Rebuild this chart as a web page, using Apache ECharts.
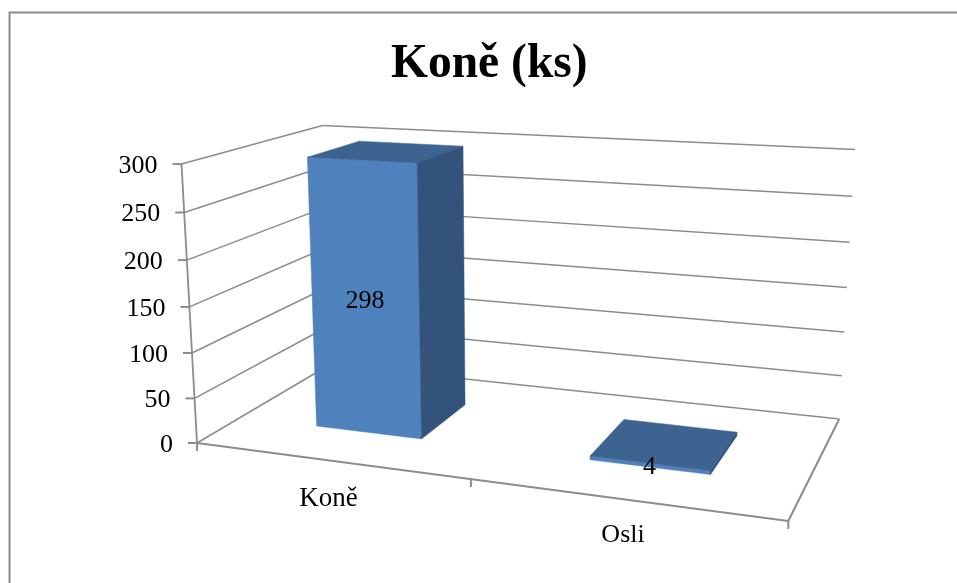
<!DOCTYPE html>
<html>
<head>
<meta charset="utf-8">
<style>html,body{margin:0;padding:0;background:#fff}#chart{width:957px;height:583px}</style>
<script src="https://cdn.jsdelivr.net/npm/echarts@6/dist/echarts.min.js"></script>
</head>
<body>
<div id="chart"></div>
<script>
// Chart content
const chartTitle = 'Koně (ks)';
const categories = ['Koně', 'Osli'];
const values = [298, 4];
const valueTicks = [0, 50, 100, 150, 200, 250, 300];

// Screen position of the corners of the 3D box
const floorCorners = [[197, 443], [788.3, 521], [839.3, 419], [330, 364.5]];
const heightRefs = [
  { at: [0, 0], px: [181.7, 163.3] },
  { at: [0, 1], px: [322.3, 124.3] },
  { at: [1, 1], px: [855, 151.7] }
];
const plane = { left: 100, top: 100, width: 700, height: 400 };

// Projective camera: floor homography plus a column for height
function buildCamera() {
  const [[x0, y0], [x1, y1], [x2, y2], [x3, y3]] = floorCorners;
  const dx1 = x1 - x2, dx2 = x3 - x2, sx = x0 - x1 + x2 - x3;
  const dy1 = y1 - y2, dy2 = y3 - y2, sy = y0 - y1 + y2 - y3;
  const den = dx1 * dy2 - dx2 * dy1;
  const g = (sx * dy2 - dx2 * sy) / den, h = (dx1 * sy - sx * dy1) / den;
  const a = x1 - x0 + g * x1, b = x3 - x0 + h * x3, c = x0;
  const d = y1 - y0 + g * y1, e = y3 - y0 + h * y3, f = y0;
  // Least squares for the height column
  const rows = [], rhs = [];
  heightRefs.forEach(({ at: [u, v], px: [X, Y] }) => {
    const D = g * u + h * v + 1;
    rows.push([1, 0, -X]); rhs.push(X * D - (a * u + b * v + c));
    rows.push([0, 1, -Y]); rhs.push(Y * D - (d * u + e * v + f));
  });
  const N = [[0, 0, 0], [0, 0, 0], [0, 0, 0]], R = [0, 0, 0];
  rows.forEach((r, k) => {
    for (let i = 0; i < 3; i++) {
      R[i] += r[i] * rhs[k];
      for (let j = 0; j < 3; j++) N[i][j] += r[i] * r[j];
    }
  });
  for (let i = 0; i < 3; i++) {
    const p = N[i][i];
    for (let j = i; j < 3; j++) N[i][j] /= p;
    R[i] /= p;
    for (let k = 0; k < 3; k++) {
      if (k === i) continue;
      const m = N[k][i];
      for (let j = i; j < 3; j++) N[k][j] -= m * N[i][j];
      R[k] -= m * R[i];
    }
  }
  return { a, b, c, d, e, f, g, h, A: R[0], B: R[1], C: R[2] };
}
const cam = buildCamera();
function project(u, v, w) {
  const q = cam.g * u + cam.h * v + 1 + cam.C * w;
  return [(cam.a * u + cam.b * v + cam.c + cam.A * w) / q,
          (cam.d * u + cam.e * v + cam.f + cam.B * w) / q];
}

// Flat axis coordinates normalised to the box
const toU = p => (p[0] - plane.left) / plane.width;
const toW = p => (plane.top + plane.height - p[1]) / plane.height;

const lineColor = '#8c8c8c';
const serif = '"Liberation Serif", "Times New Roman", serif';
const seg = (p, q, width) => ({
  type: 'line',
  shape: { x1: p[0], y1: p[1], x2: q[0], y2: q[1] },
  style: { stroke: lineColor, lineWidth: width || 1.5 }
});
const label = (text, p, align, size) => ({
  type: 'text',
  style: { text, x: p[0], y: p[1] + 2, align: align || 'center', verticalAlign: 'middle',
           fontFamily: serif, fontSize: size || 26, fill: '#000' }
});

// Gridlines along both walls, with their tick marks and labels
function renderWalls(params, api) {
  const tick = api.value(0);
  const w = toW(api.coord([0, tick]));
  const front = project(0, 0, w), corner = project(0, 1, w), end = project(1, 1, w);
  return { type: 'group', children: [
    seg(front, corner), seg(corner, end),
    seg([front[0] - 9, front[1]], front, 2),
    label(String(tick), [front[0] - 24, front[1]], 'right')
  ] };
}

// Left value axis, floor edges and category ticks
function renderFloor() {
  const origin = project(0, 0, 0), right = project(1, 0, 0), back = project(1, 1, 0);
  const children = [seg(origin, project(0, 0, 1), 1.8), seg(origin, right, 2), seg(right, back, 2)];
  [0, 0.5, 1].forEach(u => {
    const p = project(u, 0, 0);
    children.push(seg(p, [p[0], p[1] + 8], 2));
  });
  return { type: 'group', children };
}

// Box depth on the floor and the bar's share of its category band
const barFrontV = 0.30, barBackV = 0.70, barFill = 0.4;
function renderBar(params, api) {
  const idx = api.value(0), val = api.value(1);
  const base = api.coord([idx, 0]), top = api.coord([idx, val]);
  const band = api.size([1, 0])[0] / plane.width;
  const uc = toU(base), w = toW(top);
  const u0 = uc - band * barFill / 2, u1 = uc + band * barFill / 2;
  const poly = (pts, fill) => ({ type: 'polygon', shape: { points: pts }, style: { fill, stroke: fill, lineWidth: 0.5 } });
  return { type: 'group', children: [
    poly([project(u0, barFrontV, 0), project(u1, barFrontV, 0), project(u1, barFrontV, w), project(u0, barFrontV, w)], '#4f81bd'),
    poly([project(u0, barFrontV, w), project(u1, barFrontV, w), project(u1, barBackV, w), project(u0, barBackV, w)], '#3d6491'),
    poly([project(u1, barFrontV, 0), project(u1, barBackV, 0), project(u1, barBackV, w), project(u1, barFrontV, w)], '#33537b'),
    label(String(val), project(uc, barFrontV, w / 2))
  ] };
}

function renderCategory(params, api) {
  const i = api.value(0);
  const p = project(toU(api.coord([i, 0])), 0, 0);
  return label(categories[i], [p[0] - 0.5, p[1] + (i ? 34 : 36)], 'center', i ? 26 : 27);
}

const chart = echarts.init(document.getElementById('chart'), null, { renderer: 'canvas' });
chart.setOption({
  animation: false,
  backgroundColor: '#fff',
  title: { text: chartTitle, left: 391, top: 41, padding: 0,
    textStyle: { fontFamily: serif, fontWeight: 'bold', fontSize: 47.5, color: '#000' } },
  grid: { left: plane.left, top: plane.top, width: plane.width, height: plane.height },
  xAxis: { type: 'category', data: categories, show: false },
  yAxis: { type: 'value', min: 0, max: 300, interval: 50, show: false },
  graphic: [
    { type: 'polyline', shape: { points: [[9.5, 583], [9.5, 12.5], [957, 12.5]] },
      style: { stroke: '#8a8a8a', lineWidth: 2, fill: null } }
  ],
  series: [
    { type: 'custom', renderItem: renderWalls, data: valueTicks.map(t => [t]), encode: { y: 0 }, z: 1 },
    { type: 'custom', renderItem: renderFloor, data: [[0]], encode: { x: 0 }, z: 2 },
    { type: 'custom', renderItem: renderCategory, data: categories.map((c, i) => [i]), encode: { x: 0 }, z: 2 },
    { type: 'custom', renderItem: renderBar, data: values.map((v, i) => [i, v]), encode: { x: 0, y: 1 }, z: 3 }
  ]
});
</script>
</body>
</html>
